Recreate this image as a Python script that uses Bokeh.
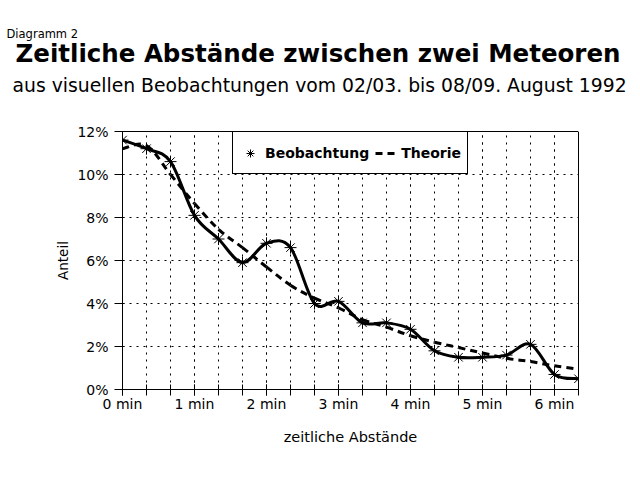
from bokeh.plotting import figure
from bokeh.models import (Range1d, FixedTicker, Title, Legend, LegendItem, LinearAxis,
                          ColumnDataSource, PrintfTickFormatter)
from bokeh.embed import file_html
from bokeh.resources import INLINE

# ---------------- data ----------------
abstand_s = [0, 20, 40, 60, 80, 100, 120, 140, 160, 180,
             200, 220, 240, 260, 280, 300, 320, 340, 360, 380]
beobachtung = [11.6, 11.2, 10.6, 8.1, 7.0, 5.9, 6.8, 6.6, 4.0, 4.1,
               3.1, 3.1, 2.8, 1.8, 1.5, 1.5, 1.6, 2.1, 0.7, 0.5]
theorie = [11.2, 11.35, 10.0, 8.65, 7.45, 6.6, 5.7, 4.85, 4.25, 3.8,
           3.25, 2.9, 2.5, 2.2, 1.95, 1.7, 1.45, 1.3, 1.1, 0.95]
x_tick_s = [0, 60, 120, 180, 240, 300, 360]
x_tick_labels = ["0 min", "1 min", "2 min", "3 min", "4 min", "5 min", "6 min"]
y_ticks = [0, 2, 4, 6, 8, 10, 12]

FONT = "DejaVu Sans"
W, H = 632, 472
L, T = 122, 131
FW, FH = 456, 258
R, B = W - L - FW, H - T - FH
X0, X1, Y0, Y1 = 0, 380, 0, 12


def smooth_segments(xs, ys):
    """Catmull-Rom spline expressed as cubic Bezier segments (drawn by Bokeh)."""
    n = len(xs)
    d = {k: [] for k in ("x0", "y0", "x1", "y1", "cx0", "cy0", "cx1", "cy1")}
    for i in range(n - 1):
        im, ip2 = max(i - 1, 0), min(i + 2, n - 1)
        d["x0"].append(xs[i]); d["y0"].append(ys[i])
        d["x1"].append(xs[i + 1]); d["y1"].append(ys[i + 1])
        d["cx0"].append(xs[i] + (xs[i + 1] - xs[im]) / 6)
        d["cy0"].append(ys[i] + (ys[i + 1] - ys[im]) / 6)
        d["cx1"].append(xs[i + 1] - (xs[ip2] - xs[i]) / 6)
        d["cy1"].append(ys[i + 1] - (ys[ip2] - ys[i]) / 6)
    return ColumnDataSource(d)


p = figure(width=W, height=H, output_backend="svg", toolbar_location=None,
           x_range=Range1d(X0, X1), y_range=Range1d(Y0, Y1),
           min_border_left=L, min_border_right=R, min_border_top=T, min_border_bottom=B,
           background_fill_color="white", border_fill_color="white",
           outline_line_color="black", outline_line_width=1)

# ---------------- axes ----------------
xa, ya = p.below[0], p.left[0]
xt = FixedTicker(ticks=x_tick_s, minor_ticks=abstand_s)
yt = FixedTicker(ticks=y_ticks, minor_ticks=[])
xa.ticker = xt
ya.ticker = yt
p.xgrid[0].ticker = xt
p.ygrid[0].ticker = yt
xa.major_label_overrides = {s: lab for s, lab in zip(x_tick_s, x_tick_labels)}
ya.formatter = PrintfTickFormatter(format="%d%%")

for ax in (xa, ya):
    ax.axis_line_color = "black"
    ax.major_tick_line_color = "black"
    ax.minor_tick_line_color = "black"
    ax.major_label_text_font = FONT
    ax.major_label_text_font_size = "14px"
    ax.major_label_text_color = "black"
    ax.axis_label_text_font = FONT
    ax.axis_label_text_font_style = "normal"
    ax.axis_label_text_color = "black"

xa.major_tick_in, xa.major_tick_out = 5, 6
xa.minor_tick_in, xa.minor_tick_out = 5, 6
xa.major_label_standoff = 0
xa.axis_label = "zeitliche Abstände"
xa.axis_label_text_font_size = "14.5px"
xa.axis_label_standoff = 14

ya.major_tick_in, ya.major_tick_out = 2, 8
ya.minor_tick_line_color = None
ya.major_label_standoff = 6
ya.axis_label = "Anteil"
ya.axis_label_text_font_size = "13.5px"
ya.axis_label_standoff = 3

for g in (p.xgrid[0], p.ygrid[0]):
    g.grid_line_color = "black"
    g.grid_line_dash = "2 5"
    g.grid_line_width = 1
p.xgrid[0].minor_grid_line_color = "black"
p.xgrid[0].minor_grid_line_dash = "2 5"

# ---------------- titles (stacked upward from the frame) ----------------
# invisible spacer between frame and subtitle: one white tick, empty label
spacer = LinearAxis(ticker=FixedTicker(ticks=[X1], minor_ticks=[]),
                    axis_line_color=None, major_tick_line_color="white",
                    minor_tick_line_color=None, major_tick_in=0, major_tick_out=31,
                    minor_tick_in=0, minor_tick_out=0, major_label_standoff=0,
                    major_label_overrides={X1: ""}, major_label_text_color="white")
p.add_layout(spacer, "above")
p.add_layout(Title(text="aus visuellen Beobachtungen vom 02/03. bis 08/09. August 1992",
                   text_font=FONT, text_font_size="18.8px", text_font_style="normal",
                   text_color="black", align="left", offset=-110, standoff=9.12), "above")
p.add_layout(Title(text="Zeitliche Abstände zwischen zwei Meteoren", text_font=FONT,
                   text_font_size="24.5px", text_font_style="bold", text_color="black",
                   align="left", offset=-107, standoff=0.44), "above")
p.title.text = "Diagramm 2"
p.title.text_font = FONT
p.title.text_font_size = "11.5px"
p.title.text_font_style = "normal"
p.title.text_color = "black"
p.title.align = "left"
p.title.offset = -116
p.title.standoff = -7.34

# ---------------- data marks ----------------
r_theo = p.bezier(x0="x0", y0="y0", x1="x1", y1="y1", cx0="cx0", cy0="cy0",
                  cx1="cx1", cy1="cy1", source=smooth_segments(abstand_s, theorie),
                  line_color="black", line_width=3, line_dash="7 5")
p.bezier(x0="x0", y0="y0", x1="x1", y1="y1", cx0="cx0", cy0="cy0", cx1="cx1", cy1="cy1",
         source=smooth_segments(abstand_s, beobachtung),
         line_color="black", line_width=3, line_cap="round")
r_star = p.scatter(x=abstand_s, y=beobachtung, marker="asterisk", size=12,
                   line_color="black", line_width=1)

legend = Legend(items=[LegendItem(label="Beobachtung", renderers=[r_star]),
                       LegendItem(label="Theorie", renderers=[r_theo])],
                orientation="horizontal", location="top_center", margin=0,
                padding=6, spacing=6, glyph_width=22, glyph_height=20,
                label_height=29, label_standoff=4,
                label_text_font=FONT, label_text_font_size="14px",
                label_text_font_style="bold", label_text_color="black",
                border_line_color="black", border_line_width=1, border_line_alpha=1,
                background_fill_color="white", background_fill_alpha=1)
p.add_layout(legend, "center")

open("out.html", "w").write(file_html(p, INLINE))
